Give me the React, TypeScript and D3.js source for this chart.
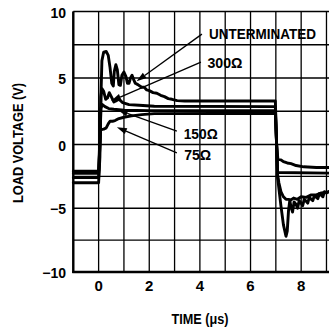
import React from "react";
import * as d3 from "d3";

type P = [number, number];

const xTicks = [0, 2, 4, 6, 8];
const yTicks = [10, 5, 0, -5, -10];
const xGrid = [-1, 0, 1, 2, 3, 4, 5, 6, 7, 8, 9];
const yGrid = [10, 7.5, 5, 2.5, 0, -2.5, -5, -7.5, -10];

const unterminated: P[] = [
  [-1, -3.0], [0, -3.0], [0.05, -1], [0.09, 3.5], [0.13, 6.3], [0.2, 6.95], [0.3, 7.0], [0.38, 6.7],
  [0.45, 5.8], [0.52, 4.6], [0.58, 4.4], [0.62, 5.5], [0.68, 6.0], [0.74, 5.6], [0.8, 4.5], [0.86, 4.45],
  [0.92, 5.2], [1.0, 5.45], [1.08, 5.1], [1.14, 4.6], [1.2, 4.6], [1.26, 5.0], [1.32, 5.2], [1.38, 4.9],
  [1.45, 4.6], [1.55, 4.5], [1.7, 4.3], [1.8, 4.3], [1.9, 4.1], [2.0, 4.05], [2.15, 3.9], [2.3, 3.85],
  [2.45, 3.7], [2.6, 3.6], [2.75, 3.45], [2.9, 3.4], [3.1, 3.3], [3.4, 3.27], [6.98, 3.27],
  [7.03, 0], [7.07, -2.6], [7.2, -4.8], [7.3, -6.3], [7.4, -7.2], [7.45, -6.8], [7.5, -5.2], [7.55, -4.4],
  [7.6, -4.9], [7.66, -5.3], [7.72, -4.5], [7.8, -4.7], [7.86, -5.0], [7.92, -4.4], [8.0, -4.6],
  [8.06, -4.8], [8.12, -4.3], [8.2, -4.45], [8.26, -4.6], [8.32, -4.15], [8.4, -4.3], [8.46, -4.4],
  [8.52, -4.0], [8.6, -4.15], [8.66, -4.25], [8.72, -3.85], [8.8, -4.0], [8.86, -4.1], [8.92, -3.7],
  [9.0, -3.8], [9.1, -3.7], [9.25, -3.55],
];

const ohm300: P[] = [
  [-1, -2.6], [0, -2.6], [0.05, 0], [0.09, 3.6], [0.13, 4.2], [0.2, 4.0], [0.28, 3.4], [0.35, 3.5],
  [0.42, 3.9], [0.5, 3.6], [0.6, 3.2], [0.7, 3.3], [0.8, 3.4], [0.95, 3.15], [1.2, 3.0], [1.6, 2.95],
  [2.2, 2.88], [6.98, 2.85], [7.03, 0], [7.07, -2.4], [7.12, -3.0], [7.2, -3.7], [7.3, -4.1],
  [7.4, -4.3], [7.5, -4.3], [7.6, -4.35], [7.7, -4.2], [7.85, -4.3], [8.0, -4.1], [8.2, -4.15],
  [8.4, -3.95], [8.6, -3.95], [8.8, -3.8], [9.0, -3.75], [9.25, -3.6],
];

const ohm150: P[] = [
  [-1, -2.25], [0, -2.25], [0.05, 0], [0.09, 2.7], [0.15, 3.0], [0.25, 2.85], [0.4, 2.7], [0.6, 2.65],
  [1.0, 2.58], [2.0, 2.55], [6.98, 2.55], [7.03, 0], [7.07, -2.2], [9.25, -2.25],
];

const ohm75: P[] = [
  [-1, -2.1], [0, -2.1], [0.04, 0], [0.08, 1.1], [0.2, 1.15], [0.3, 1.25], [0.38, 1.55], [0.45, 1.75],
  [0.55, 1.75], [0.65, 1.8], [0.8, 1.95], [1.0, 2.05], [1.3, 2.15], [1.7, 2.25], [2.2, 2.32],
  [6.98, 2.35], [7.03, 0], [7.08, -1.15], [7.2, -1.2], [7.3, -1.35], [7.45, -1.45], [7.6, -1.5],
  [7.8, -1.65], [8.1, -1.75], [8.6, -1.8], [9.25, -1.8],
];

const series = [unterminated, ohm300, ohm150, ohm75];

const labelNames = ["UNTERMINATED", "300Ω", "150Ω", "75Ω"];
const labelPos: P[] = [[4.36, 7.95], [4.3, 5.75], [3.36, 0.42], [3.38, -1.22]];
const leaderStart: P[] = [[4.08, 8.3], [4.04, 6.2], [3.09, 1.0], [3.09, -0.65]];
const leaderTip: P[] = [[1.5, 4.75], [0.49, 3.27], [0.76, 2.6], [0.72, 1.3]];
const labelWidth = [107, 35, 34, 27];

const W = 329;
const H = 331;
const font = "'Liberation Sans Narrow', 'Arial Narrow', 'Liberation Sans', Arial, sans-serif";

export default function App() {
  const x = d3.scaleLinear().domain([-1, 10]).range([73.3, 351.8]);
  const y = d3.scaleLinear().domain([-10, 0, 10]).range([272, 144.5, 11.5]);
  const line = d3
    .line<P>()
    .x((d) => x(d[0]))
    .y((d) => y(d[1]));

  const arrows = leaderStart.map((s, i) => {
    const t = leaderTip[i];
    const x1 = x(s[0]), y1 = y(s[1]), x2 = x(t[0]), y2 = y(t[1]);
    const dx = x2 - x1, dy = y2 - y1;
    const len = Math.hypot(dx, dy);
    const ux = dx / len, uy = dy / len;
    const L = 10, hw = 3.2;
    const bx = x2 - ux * L, by = y2 - uy * L;
    const head = `M${x2},${y2}L${bx - uy * hw},${by + ux * hw}L${bx + uy * hw},${by - ux * hw}Z`;
    return { x1, y1, bx, by, head };
  });

  return (
    <svg
      width={W}
      height={H}
      style={{ position: "absolute", left: 0, top: 0, background: "#fff" }}
      fontFamily={font}
    >
      <rect width={W} height={H} fill="#fff" />
      <g stroke="#000" strokeWidth={1.3}>
        {xGrid.map((t) => (
          <line key={"gx" + t} x1={x(t)} x2={x(t)} y1={y(10)} y2={y(-10)} />
        ))}
        {yGrid.map((v) => (
          <line key={"gy" + v} x1={x(-1)} x2={W} y1={y(v)} y2={y(v)} />
        ))}
      </g>
      <line x1={x(-1)} x2={x(-1)} y1={y(10)} y2={y(-10) + 1} stroke="#000" strokeWidth={2.4} />
      <line x1={x(-1) - 1} x2={W} y1={y(-10)} y2={y(-10)} stroke="#000" strokeWidth={2.4} />

      <g fill="none" stroke="#000" strokeWidth={2.9} strokeLinejoin="round" strokeLinecap="round">
        {series.map((s, i) => (
          <path key={"s" + i} d={line(s) || ""} />
        ))}
      </g>

      <g>
        {arrows.map((a, i) => (
          <g key={"a" + i}>
            <line x1={a.x1} y1={a.y1} x2={a.bx} y2={a.by} stroke="#000" strokeWidth={1.3} />
            <path d={a.head} fill="#000" />
          </g>
        ))}
      </g>

      <g fontWeight="bold" fontSize={15} fill="#000">
        {labelNames.map((n, i) => (
          <text
            key={"l" + i}
            x={x(labelPos[i][0])}
            y={y(labelPos[i][1])}
            textLength={labelWidth[i]}
            lengthAdjust="spacingAndGlyphs"
          >
            {n}
          </text>
        ))}
      </g>

      <g fontWeight="bold" fontSize={14} fill="#000">
        {yTicks.map((v) => (
          <text key={"yt" + v} x={66} y={y(v) + 6} textAnchor="end">
            {v < 0 ? "\u2212" + Math.abs(v) : String(v)}
          </text>
        ))}
        {xTicks.map((t) => (
          <text key={"xt" + t} x={x(t)} y={291} textAnchor="middle" fontSize={15}>
            {t}
          </text>
        ))}
      </g>

      <text
        x={200}
        y={324}
        textAnchor="middle"
        fontWeight="bold"
        fontSize={15}
        textLength={57}
        lengthAdjust="spacingAndGlyphs"
      >
        TIME (μs)
      </text>
      <text
        transform="translate(23,143) rotate(-90)"
        textAnchor="middle"
        fontWeight="bold"
        fontSize={15}
        textLength={120}
        lengthAdjust="spacingAndGlyphs"
      >
        LOAD VOLTAGE (V)
      </text>
    </svg>
  );
}
